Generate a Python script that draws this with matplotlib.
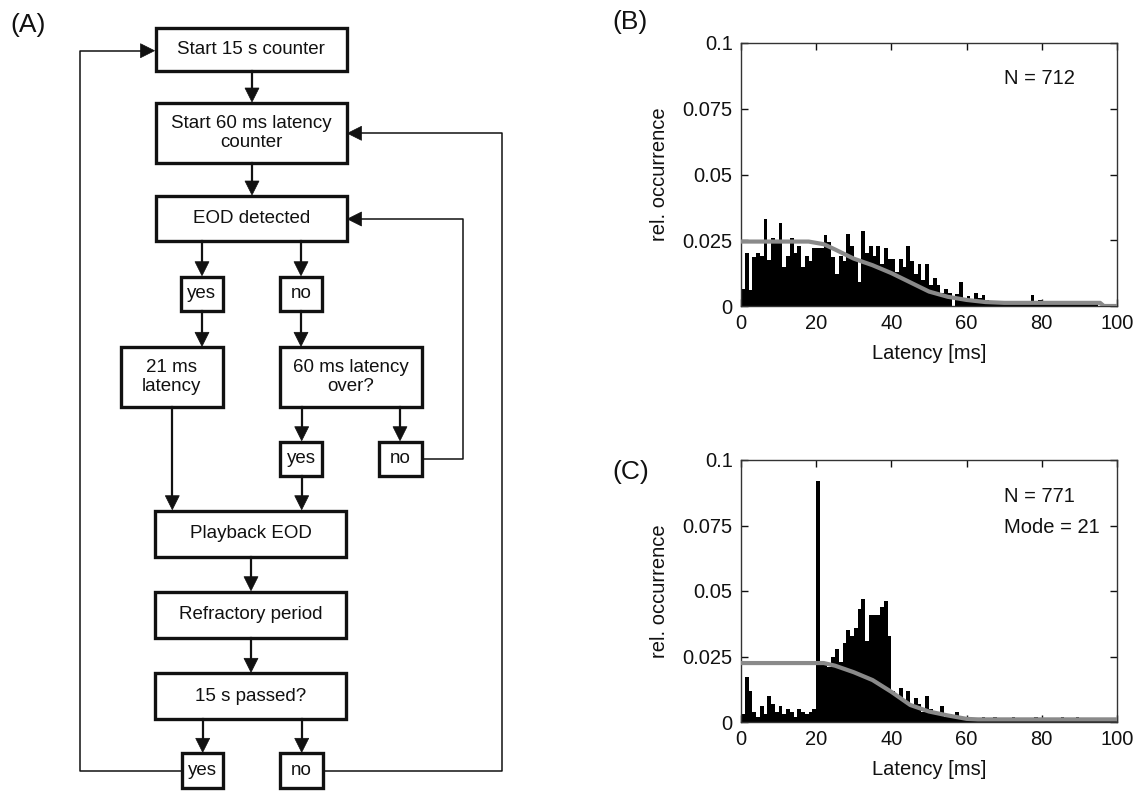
import matplotlib
matplotlib.use("Agg")
import matplotlib.pyplot as plt
from matplotlib.patches import Rectangle, Polygon
import numpy as np

plt.rcParams['font.family'] = ['Liberation Sans', 'DejaVu Sans']

# ---------------- data ----------------
bin_edges_ms = list(range(0, 100))  # 1-ms bins, left edges

latency_B = [0.0065, 0.020, 0.006, 0.0185, 0.020, 0.019, 0.033, 0.0175, 0.026, 0.024,
             0.0315, 0.015, 0.019, 0.026, 0.020, 0.023, 0.015, 0.019, 0.017, 0.022,
             0.022, 0.022, 0.027, 0.0245, 0.0187, 0.012, 0.019, 0.017, 0.0274, 0.023,
             0.018, 0.009, 0.0286, 0.020, 0.023, 0.019, 0.023, 0.016, 0.022, 0.018,
             0.018, 0.013, 0.018, 0.015, 0.023, 0.017, 0.012, 0.016, 0.010, 0.016,
             0.008, 0.0106, 0.008, 0.005, 0.0065, 0.005, 0.0, 0.0045, 0.009, 0.003,
             0.0038, 0.0023, 0.005, 0.003, 0.004, 0.0023, 0.002, 0.0015, 0.0015, 0.001,
             0.001, 0.001, 0.001, 0.001, 0.001, 0.001, 0.001, 0.004, 0.001, 0.0023,
             0.001, 0.001, 0.001, 0.001, 0.001, 0.002, 0.001, 0.001, 0.001, 0.001,
             0.001, 0.001, 0.001, 0.001, 0.001, 0.0, 0.0, 0.0, 0.0, 0.0]

latency_C = [0.003, 0.017, 0.012, 0.004, 0.002, 0.006, 0.003, 0.010, 0.007, 0.004,
             0.006, 0.003, 0.005, 0.004, 0.002, 0.005, 0.004, 0.003, 0.004, 0.005,
             0.092, 0.022, 0.023, 0.021, 0.025, 0.028, 0.023, 0.030, 0.035, 0.033,
             0.036, 0.043, 0.047, 0.031, 0.041, 0.041, 0.041, 0.044, 0.046, 0.033,
             0.012, 0.010, 0.013, 0.008, 0.012, 0.006, 0.009, 0.007, 0.004, 0.010,
             0.005, 0.004, 0.003, 0.006, 0.002, 0.003, 0.002, 0.004, 0.001, 0.002,
             0.002, 0.001, 0.001, 0.001, 0.002, 0.001, 0.001, 0.002, 0.001, 0.001,
             0.001, 0.001, 0.002, 0.001, 0.001, 0.001, 0.001, 0.001, 0.002, 0.001,
             0.001, 0.001, 0.001, 0.001, 0.001, 0.002, 0.001, 0.001, 0.001, 0.002,
             0.001, 0.001, 0.001, 0.001, 0.001, 0.001, 0.001, 0.001, 0.001, 0.001]

curve_B_x = [0, 18, 22, 25, 30, 35, 40, 45, 50, 55, 60, 65, 70, 95.5, 96.5, 100]
curve_B_y = [0.0245, 0.0245, 0.0235, 0.0215, 0.018, 0.0155, 0.0125, 0.009, 0.0055,
             0.0035, 0.0023, 0.0015, 0.0012, 0.0012, 0.0, 0.0]

curve_C_x = [0, 22, 25, 30, 35, 40, 45, 50, 55, 60, 63, 100]
curve_C_y = [0.0225, 0.0225, 0.0215, 0.019, 0.016, 0.0115, 0.0065, 0.004, 0.0025,
             0.0012, 0.001, 0.001]

x_ticks = [0, 20, 40, 60, 80, 100]
y_ticks = [0, 0.025, 0.05, 0.075, 0.1]
y_ticklabels = ['0', '0.025', '0.05', '0.075', '0.1']
annot_B = ["N = 712"]
annot_C = ["N = 771", "Mode = 21"]

# ---------------- figure ----------------
W, H = 1143, 801
fig = plt.figure(figsize=(W / 100, H / 100), dpi=100)
fig.patch.set_facecolor('white')

# flowchart canvas in pixel coordinates
ax0 = fig.add_axes([0, 0, 1, 1])
ax0.set_xlim(0, W)
ax0.set_ylim(H, 0)
ax0.axis('off')

BOX_LW = 2.4
TXT = 13.5
ARROW_LW = 1.6
LOOP_LW = 1.1
INK = '#111111'


def box(x0, y0, x1, y1, label):
    ax0.add_patch(Rectangle((x0, y0), x1 - x0, y1 - y0, fill=False,
                            edgecolor=INK, lw=BOX_LW, zorder=3))
    ax0.text((x0 + x1) / 2, (y0 + y1) / 2, label, ha='center', va='center',
             fontsize=TXT, color=INK, linespacing=1.15, zorder=4)


def head(xt, yt, direction, size=14):
    h = size
    w = size / 2
    if direction == 'down':
        pts = [(xt, yt), (xt - w, yt - h), (xt + w, yt - h)]
    elif direction == 'left':
        pts = [(xt, yt), (xt + h, yt - w), (xt + h, yt + w)]
    else:  # right
        pts = [(xt, yt), (xt - h, yt - w), (xt - h, yt + w)]
    ax0.add_patch(Polygon(pts, closed=True, facecolor=INK,
                          edgecolor=INK, lw=0.5, zorder=4))


def vdown(x, y0, y1):
    ax0.plot([x, x], [y0, y1 - 10], color=INK, lw=ARROW_LW, zorder=2)
    head(x, y1 - 1, 'down')


# boxes
box(155.7, 28, 346.7, 71, "Start 15 s counter")
box(155.7, 103, 346.7, 163, "Start 60 ms latency\ncounter")
box(155.7, 196, 346.7, 241, "EOD detected")
box(181, 276.7, 222.7, 311, "yes")
box(280, 276.7, 322.3, 311, "no")
box(120.7, 347.3, 222.7, 406.7, "21 ms\nlatency")
box(280, 347.3, 421.7, 406.7, "60 ms latency\nover?")
box(280, 441.7, 322.3, 476, "yes")
box(379.3, 441.7, 421.7, 476, "no")
box(155, 510.7, 346, 556.7, "Playback EOD")
box(155, 591.7, 346, 637.7, "Refractory period")
box(155, 673.3, 346, 719, "15 s passed?")
box(181.7, 753.3, 223.3, 788.3, "yes")
box(280, 753.3, 322.7, 788.3, "no")

# vertical arrows
vdown(252, 71, 103)
vdown(252, 163, 196)
vdown(202, 241, 276.7)
vdown(301, 241, 276.7)
vdown(202, 311, 347.3)
vdown(301, 311, 347.3)
vdown(172.3, 406.7, 510.7)
vdown(301.7, 406.7, 441.7)
vdown(400, 406.7, 441.7)
vdown(301.7, 476, 510.7)
vdown(251, 556.7, 591.7)
vdown(251, 637.7, 673.3)
vdown(202.7, 719, 753.3)
vdown(301.7, 719, 753.3)

# loop-back lines
ax0.plot([421.7, 462.7, 462.7, 356], [459, 459, 219, 219], color=INK, lw=LOOP_LW, zorder=2)
head(347.5, 219, 'left')
ax0.plot([181.7, 80.3, 80.3, 145], [770.8, 770.8, 50.7, 50.7], color=INK, lw=LOOP_LW, zorder=2)
head(154.5, 50.7, 'right')
ax0.plot([322.7, 501.7, 501.7, 356], [770.8, 770.8, 133.3, 133.3], color=INK, lw=LOOP_LW, zorder=2)
head(347.5, 133.3, 'left')

# panel letters
ax0.text(10, 25, "(A)", fontsize=19, ha='left', va='center', color=INK)
ax0.text(612, 22, "(B)", fontsize=19, ha='left', va='center', color=INK)
ax0.text(612, 472, "(C)", fontsize=19, ha='left', va='center', color=INK)


def hist_panel(rect, values, cx, cy, annots, ypos):
    ax = fig.add_axes(rect)
    ax.bar(bin_edges_ms, values, width=1.0, align='edge', color='black',
           edgecolor='black', linewidth=0, zorder=2)
    ax.plot(cx, cy, color='#8a8a8a', lw=3, zorder=3, solid_capstyle='butt')
    ax.set_xlim(0, 100)
    ax.set_ylim(0, 0.1)
    ax.set_xticks(x_ticks)
    ax.set_xticklabels([str(t) for t in x_ticks])
    ax.set_yticks(y_ticks)
    ax.set_yticklabels(y_ticklabels)
    ax.tick_params(direction='in', top=True, right=True, length=5, width=1,
                   labelsize=14.5, pad=6, colors=INK)
    for s in ax.spines.values():
        s.set_linewidth(1.0)
        s.set_color('#333333')
    ax.set_xlabel("Latency [ms]", fontsize=14.5, labelpad=8, color=INK)
    ax.set_ylabel("rel. occurrence", fontsize=14.5, labelpad=10, color=INK)
    for t, yp in zip(annots, ypos):
        ax.text(70, yp, t, fontsize=14.5, ha='left', va='center', color=INK)
    return ax


hist_panel([741 / W, 1 - 306 / H, 376 / W, 263 / H], latency_B, curve_B_x, curve_B_y,
           annot_B, [0.0865])
hist_panel([741 / W, 1 - 722 / H, 376 / W, 262 / H], latency_C, curve_C_x, curve_C_y,
           annot_C, [0.0859, 0.0744])

fig.savefig("out.png", dpi=100, facecolor='white')
